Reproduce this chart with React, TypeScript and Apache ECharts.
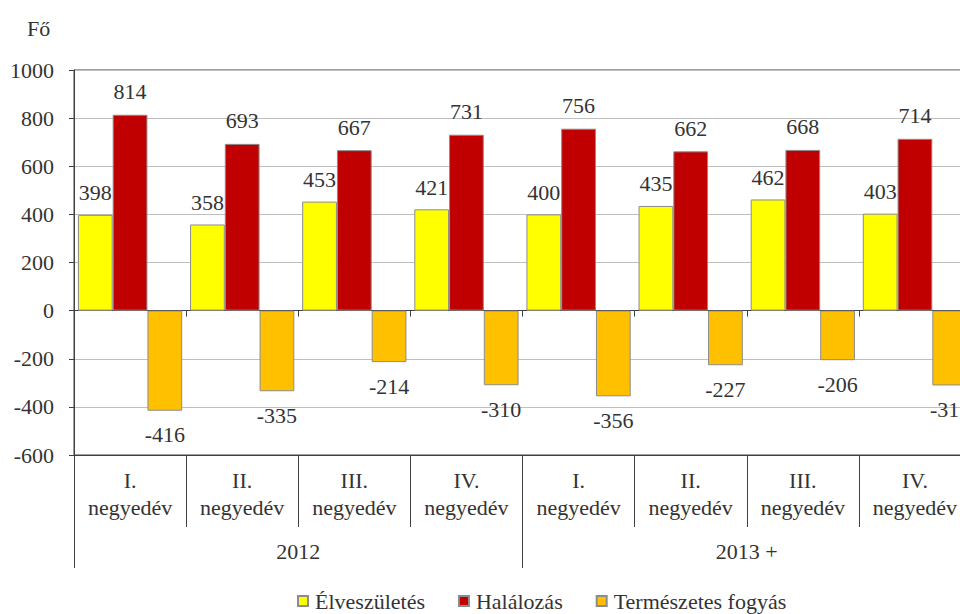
import React, { useEffect, useRef } from "react";
import * as echarts from "echarts";

const quarters = ["I.\nnegyedév", "II.\nnegyedév", "III.\nnegyedév", "IV.\nnegyedév", "I.\nnegyedév", "II.\nnegyedév", "III.\nnegyedév", "IV.\nnegyedév"];
const years = ["2012", "2013 +"];
const births = [398, 358, 453, 421, 400, 435, 462, 403];
const deaths = [814, 693, 667, 731, 756, 662, 668, 714];
const naturalDecrease = [-416, -335, -214, -310, -356, -227, -206, -311];
const seriesNames = ["Élveszületés", "Halálozás", "Természetes fogyás"];
const unitLabel = "Fő";

const FONT = "Liberation Serif";
const TEXT = "#333333";
const AXIS = "#404040";

export default function App() {
  const ref = useRef<HTMLDivElement>(null);
  useEffect(() => {
    if (!ref.current) return;
    const chart = echarts.init(ref.current, undefined, { renderer: "svg" });
    const labelStyle = { show: true, fontFamily: FONT, fontSize: 22, color: TEXT };
    chart.setOption({
      animation: false,
      textStyle: { fontFamily: FONT },
      title: {
        text: unitLabel,
        left: 22,
        top: 12,
        textStyle: { fontFamily: FONT, fontSize: 22, fontWeight: "normal", color: TEXT },
      },
      legend: {
        left: 292,
        top: 585,
        itemWidth: 10,
        itemHeight: 10,
        itemGap: 33,
        icon: "rect",
        textStyle: { fontFamily: FONT, fontSize: 22, color: TEXT, padding: [0, 0, 0, 2] },
        data: seriesNames,
      },
      grid: {
        left: 74,
        top: 70,
        bottom: 159,
        right: 19,
        show: true,
        borderColor: AXIS,
        borderWidth: 1,
        backgroundColor: "transparent",
      },
      xAxis: [
        {
          type: "category",
          data: quarters,
          position: "bottom",
          axisLine: { show: true, onZero: true, lineStyle: { color: AXIS, width: 1 } },
          axisTick: { show: true, length: 6, lineStyle: { color: AXIS } },
          axisLabel: { show: false },
          splitLine: { show: false },
        },
        {
          type: "category",
          data: quarters,
          position: "bottom",
          axisLine: { show: true, onZero: false, lineStyle: { color: AXIS, width: 1 } },
          axisTick: { show: true, length: 72, lineStyle: { color: AXIS } },
          axisLabel: { show: true, margin: 12, fontFamily: FONT, fontSize: 22, lineHeight: 27, color: TEXT, interval: 0 },
          splitLine: { show: false },
        },
        {
          type: "category",
          data: years,
          position: "bottom",
          offset: 72,
          axisLine: { show: false, onZero: false },
          axisTick: { show: true, length: 41, lineStyle: { color: AXIS } },
          axisLabel: { show: true, margin: 13, fontFamily: FONT, fontSize: 22, color: TEXT, interval: 0 },
          splitLine: { show: false },
        },
      ],
      yAxis: {
        type: "value",
        min: -600,
        max: 1000,
        interval: 200,
        axisLine: { show: true, lineStyle: { color: AXIS } },
        axisTick: { show: true, length: 5, lineStyle: { color: AXIS } },
        axisLabel: { margin: 20, fontFamily: FONT, fontSize: 22, color: TEXT, formatter: (v: number) => String(v) },
        splitLine: { show: true, lineStyle: { color: "#bfbfbf", width: 1 } },
      },
      series: [
        {
          name: seriesNames[0],
          type: "bar",
          xAxisIndex: 0,
          data: births,
          barGap: "0%",
          barCategoryGap: "7%",
          itemStyle: { color: "#FFFF00", borderColor: "#8c8c8c", borderWidth: 1 },
          label: { ...labelStyle, position: "top", distance: 11 },
        },
        {
          name: seriesNames[1],
          type: "bar",
          xAxisIndex: 0,
          data: deaths,
          barGap: "0%",
          barCategoryGap: "7%",
          itemStyle: { color: "#C00000", borderColor: "#8c8c8c", borderWidth: 1 },
          label: { ...labelStyle, position: "top", distance: 12 },
        },
        {
          name: seriesNames[2],
          type: "bar",
          xAxisIndex: 0,
          data: naturalDecrease,
          barGap: "0%",
          barCategoryGap: "7%",
          itemStyle: { color: "#FFC000", borderColor: "#8c8c8c", borderWidth: 1 },
          label: { ...labelStyle, position: "bottom", distance: 13 },
        },
      ],
    });
    return () => chart.dispose();
  }, []);
  return (
    <div style={{ position: "fixed", left: 0, top: 0, width: 960, height: 614, overflow: "hidden", background: "#fff" }}>
      <div ref={ref} style={{ width: 990, height: 614 }} />
    </div>
  );
}
